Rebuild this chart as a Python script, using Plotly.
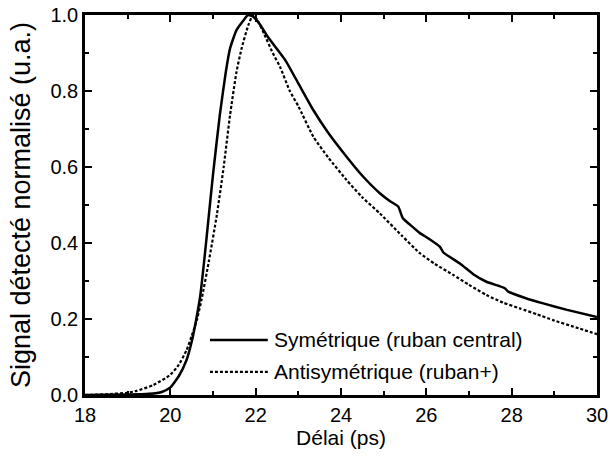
import plotly.graph_objects as go

# symmetric mode (central strip)
t_sym = [18.0, 19.0, 19.5, 19.8, 20.0, 20.2, 20.38, 20.5, 20.6, 20.7, 20.8, 20.9,
         21.0, 21.16, 21.3, 21.4, 21.55, 21.71, 21.82, 21.95, 22.1, 22.3, 22.69,
         23.0, 23.35, 23.7, 24.13, 24.5, 24.91, 25.15, 25.34, 25.45, 25.6, 25.85,
         26.05, 26.32, 26.4, 26.8, 27.1, 27.41, 27.84, 27.92, 28.3, 28.74, 29.3, 30.0]
v_sym = [0.0, 0.001, 0.003, 0.008, 0.02, 0.05, 0.092, 0.14, 0.195, 0.26, 0.36, 0.47,
         0.58, 0.737, 0.85, 0.912, 0.96, 0.985, 1.0, 0.995, 0.975, 0.94, 0.882,
         0.82, 0.75, 0.69, 0.627, 0.577, 0.531, 0.51, 0.496, 0.465, 0.45, 0.426,
         0.412, 0.39, 0.375, 0.345, 0.318, 0.298, 0.281, 0.272, 0.256, 0.241, 0.224, 0.205]

# antisymmetric mode (strip +)
t_anti = [18.0, 18.5, 19.0, 19.21, 19.6, 20.0, 20.2, 20.38, 20.5, 20.62, 20.73, 20.9,
          21.09, 21.25, 21.4, 21.55, 21.67, 21.83, 21.94, 22.05, 22.2, 22.4, 22.57,
          22.8, 23.0, 23.35, 23.7, 24.13, 24.5, 24.91, 25.42, 25.85, 26.2, 26.63,
          27.0, 27.41, 27.8, 28.19, 28.6, 28.97, 29.5, 30.0]
v_anti = [0.0, 0.002, 0.006, 0.011, 0.026, 0.053, 0.08, 0.118, 0.155, 0.197, 0.25, 0.35,
          0.474, 0.6, 0.737, 0.85, 0.912, 0.974, 1.0, 0.985, 0.95, 0.9, 0.864,
          0.8, 0.76, 0.68, 0.625, 0.566, 0.52, 0.478, 0.42, 0.373, 0.345, 0.316,
          0.29, 0.263, 0.243, 0.228, 0.212, 0.197, 0.178, 0.16]

names = ['Symétrique (ruban central)', 'Antisymétrique (ruban+)']
styles = [dict(color='black', width=2.5), dict(color='black', width=2.2, dash='3px,2px')]

fig = go.Figure()
fig.add_trace(go.Scatter(x=t_sym, y=v_sym, mode='lines', name=names[0],
                         line=dict(**styles[0], shape='spline', smoothing=0.5),
                         showlegend=False))
fig.add_trace(go.Scatter(x=t_anti, y=v_anti, mode='lines', name=names[1],
                         line=dict(**styles[1], shape='spline', smoothing=0.5),
                         showlegend=False))

# legend drawn by hand so the sample lines are as long as in the original
for i, (name, st) in enumerate(zip(names, styles)):
    yy = 0.145 - i * 0.084
    fig.add_shape(type='line', xref='paper', yref='paper',
                  x0=0.244, x1=0.357, y0=yy, y1=yy, line=st)
    fig.add_annotation(xref='paper', yref='paper', x=0.366, y=yy,
                       xanchor='left', yanchor='middle', text=name,
                       showarrow=False, font=dict(size=21, color='black'))

axis_common = dict(showline=True, linecolor='black', linewidth=2.5, mirror='allticks',
                   ticks='inside', ticklen=7, tickwidth=2, tickcolor='black',
                   showgrid=False, zeroline=False, automargin=False,
                   ticklabeloverflow='allow',
                   tickfont=dict(size=20, color='black'),
                   minor=dict(ticks='inside', ticklen=4, tickwidth=2, tickcolor='black'))

fig.update_xaxes(range=[18, 30], dtick=2, minor_dtick=1,
                 title=dict(text='Délai (ps)', font=dict(size=21, color='black'), standoff=6),
                 **axis_common)
fig.update_yaxes(range=[0, 1], dtick=0.2, minor_dtick=0.1, tickformat='.1f',
                 title=dict(text='Signal détecté normalisé (u.a.)',
                            font=dict(size=27, color='black'), standoff=12),
                 **axis_common)

fig.update_layout(
    width=611, height=459,
    margin=dict(l=85, r=14, t=15, b=64),
    plot_bgcolor='white', paper_bgcolor='white',
    font=dict(family='Liberation Sans, Arial, sans-serif', size=20, color='black'),
)

# drop the default 8px body margin of the page
fig.write_html("out.html", config={'displayModeBar': False},
               post_script="document.body.style.margin='0';document.body.style.overflow='hidden';")
